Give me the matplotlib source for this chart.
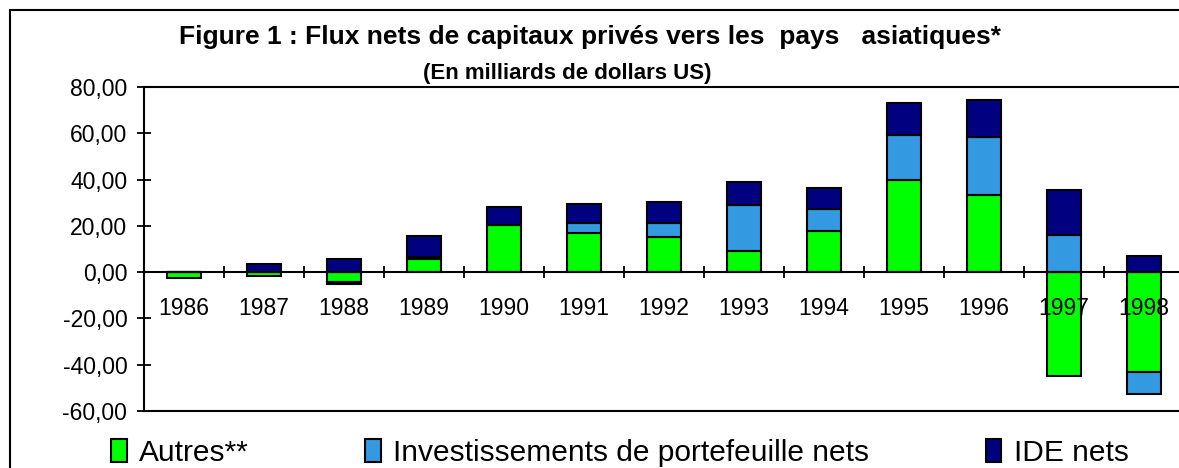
import matplotlib.pyplot as plt
from matplotlib.patches import Rectangle
from matplotlib.ticker import FixedLocator, FuncFormatter
import numpy as np

plt.rcParams['font.family'] = ['Liberation Sans', 'DejaVu Sans']

annees = ['1986', '1987', '1988', '1989', '1990', '1991', '1992',
          '1993', '1994', '1995', '1996', '1997', '1998']
autres = [-2.7, -1.7, -4.2, 5.5, 20.3, 17.0, 15.4, 9.2, 17.9, 39.6, 33.4, -44.7, -43.2]
portefeuille = [0.0, 0.0, -0.9, 1.0, 0.0, 4.2, 5.8, 19.8, 9.5, 19.6, 24.9, 16.1, -9.4]
ide = [0.0, 3.5, 5.8, 9.0, 8.0, 8.3, 9.0, 9.8, 8.8, 14.1, 15.9, 19.4, 7.0]

series = [('Autres**', autres, '#00FF00'),
          ('Investissements de portefeuille nets', portefeuille, '#3399E0'),
          ('IDE nets', ide, '#000080')]

W, H = 1179, 468
fig = plt.figure(figsize=(W / 100, H / 100), dpi=100)
ax = fig.add_axes([144 / W, (H - 411) / H, 1040 / W, 324 / H])

x = np.arange(len(annees))
pos_base = np.zeros(len(annees))
neg_base = np.zeros(len(annees))
handles = []
for nom, vals, couleur in series:
    v = np.array(vals)
    base = np.where(v >= 0, pos_base, neg_base)
    b = ax.bar(x, v, width=0.42, bottom=base, color=couleur,
               edgecolor='black', linewidth=1.5, label=nom, zorder=2)
    handles.append(b)
    pos_base = pos_base + np.where(v > 0, v, 0)
    neg_base = neg_base + np.where(v < 0, v, 0)

ax.set_xlim(-0.5, len(annees) - 0.5)
ax.set_ylim(-60, 80)
ax.set_axisbelow(False)

# axe des abscisses sur la ligne zéro
ax.spines['bottom'].set_position(('data', 0))
ax.spines['right'].set_visible(False)
for s in ['left', 'bottom', 'top']:
    ax.spines[s].set_linewidth(1.5)
ax.axhline(-60, color='black', linewidth=1.5, clip_on=False, zorder=3)

ax.set_xticks(x)
ax.set_xticklabels(annees, fontsize=16.5)
ax.tick_params(axis='x', which='major', length=0, pad=18)
ax.xaxis.set_minor_locator(FixedLocator(x[:-1] + 0.5))
ax.tick_params(axis='x', which='minor', direction='inout', length=9, width=1.3)

ax.set_yticks(np.arange(-60, 81, 20))
ax.yaxis.set_major_formatter(FuncFormatter(lambda v, p: f'{v:.2f}'.replace('.', ',')))
ax.tick_params(axis='y', direction='inout', length=10, width=1.3, labelsize=16.5, pad=7)

fig.text(590 / W, 1 - 37 / H, 'Figure 1 : Flux nets de capitaux privés vers les  pays   asiatiques*',
         ha='center', va='center', fontsize=19, fontweight='bold')
fig.text(567 / W, 1 - 73 / H, '(En milliards de dollars US)',
         ha='center', va='center', fontsize=16, fontweight='bold')

fig.legend(handles=handles, loc='center left', bbox_to_anchor=(111 / W, 1 - 453 / H),
           ncol=3, frameon=False, fontsize=21.5, handlelength=0.52, handleheight=0.8,
           handletextpad=0.42, columnspacing=3.9, borderpad=0, borderaxespad=0)

fig.patches.append(Rectangle((10 / W, -0.1), 1.2, 1 - 10 / H + 0.1, transform=fig.transFigure,
                             fill=False, edgecolor='black', linewidth=1.5))

fig.savefig('out.png', dpi=100)
